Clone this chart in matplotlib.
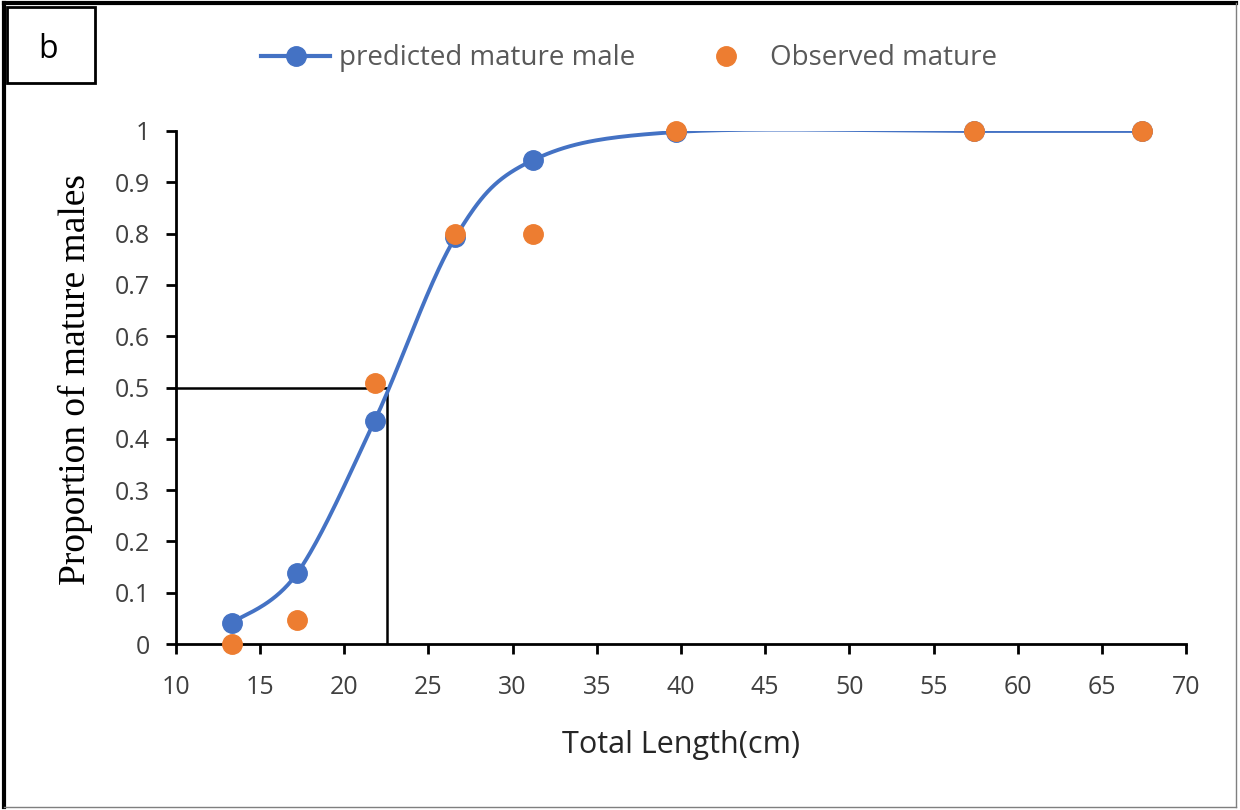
import numpy as np
import matplotlib
matplotlib.use('Agg')
import matplotlib.pyplot as plt
from matplotlib.lines import Line2D
from matplotlib.patches import Rectangle

# total length (cm) of each length class
length_cm = [13.3, 17.2, 21.8, 26.6, 31.2, 39.7, 57.4, 67.4]
predicted = [0.041, 0.138, 0.435, 0.793, 0.943, 0.998, 1.0, 1.0]
observed = [0.0, 0.047, 0.508, 0.80, 0.80, 1.0, 1.0, 1.0]
l50 = 22.55

blue = '#4472C4'
orange = '#ED7D31'
sans = ['Open Sans', 'DejaVu Sans']


def smooth_curve(x, y, n=40):
    # spreadsheet-style smoothed line: cubic bezier between neighbours
    px = np.r_[x[0], x, x[-1]]
    py = np.r_[y[0], y, y[-1]]
    xs, ys = [], []
    t = np.linspace(0, 1, n)
    for i in range(1, len(px) - 2):
        p0 = np.array([px[i], py[i]])
        p3 = np.array([px[i + 1], py[i + 1]])
        p1 = p0 + (np.array([px[i + 1], py[i + 1]]) - np.array([px[i - 1], py[i - 1]])) / 6
        p2 = p3 - (np.array([px[i + 2], py[i + 2]]) - np.array([px[i], py[i]])) / 6
        b = ((1 - t) ** 3)[:, None] * p0 + (3 * (1 - t) ** 2 * t)[:, None] * p1 \
            + (3 * (1 - t) * t ** 2)[:, None] * p2 + (t ** 3)[:, None] * p3
        xs.append(b[:, 0])
        ys.append(b[:, 1])
    return np.concatenate(xs), np.concatenate(ys)


fig = plt.figure(figsize=(12.4, 8.1), dpi=100)
ax = fig.add_axes([0.1419, 0.2049, 0.8146, 0.6334])

# L50 guide lines
ax.plot([10, l50], [0.5, 0.5], color='black', lw=1.8, zorder=2, clip_on=False)
ax.plot([l50, l50], [0.5, 0], color='black', lw=1.8, zorder=2)

sx, sy = smooth_curve(np.array(length_cm), np.array(predicted))
ax.plot(sx, sy, color=blue, lw=2.8, zorder=3, solid_capstyle='round')
ax.plot(length_cm, predicted, 'o', color=blue, ms=14, zorder=4, clip_on=False)
ax.plot(length_cm, observed, 'o', color=orange, ms=14, zorder=5, clip_on=False)

ax.set_xlim(10, 70)
ax.set_ylim(0, 1)
ax.set_xticks(range(10, 71, 5))
ax.set_yticks(np.arange(0, 1.01, 0.1))
ax.set_yticklabels(['0'] + ['%.1f' % v for v in np.arange(0.1, 0.95, 0.1)] + ['1'])
for s in ['top', 'right']:
    ax.spines[s].set_visible(False)
for s in ['left', 'bottom']:
    ax.spines[s].set_linewidth(2)
ax.tick_params(direction='out', length=7, width=2, labelsize=18, labelcolor='#404040')
ax.tick_params(axis='x', pad=15)
ax.tick_params(axis='y', pad=12)
for lab in ax.get_xticklabels() + ax.get_yticklabels():
    lab.set_family(sans)

ax.set_xlabel('Total Length(cm)', fontsize=22, family=sans, color='#262626', va='center')
ax.xaxis.set_label_coords(0.5, -0.197)
ax.set_ylabel('Proportion of mature males', fontsize=27, family='Liberation Serif',
              color='black', va='center')
ax.yaxis.set_label_coords(-0.1, 0.515)

handles = [Line2D([], [], color=blue, lw=3, marker='o', ms=14),
           Line2D([], [], color=orange, lw=0, marker='o', ms=14)]
leg = fig.legend(handles, ['predicted mature male', 'Observed mature'], loc='center',
                 bbox_to_anchor=(0.507, 0.928), ncol=2, frameon=False, handlelength=2.5,
                 columnspacing=2.05, handletextpad=0.3, prop={'family': sans, 'size': 20})
for t in leg.get_texts():
    t.set_color('#595959')

# outer frame and panel letter box
fig.add_artist(Line2D([0.003, 0.997], [0.996, 0.996], color='black', lw=3, transform=fig.transFigure))
fig.add_artist(Line2D([0.003, 0.003], [0.004, 0.996], color='black', lw=3, transform=fig.transFigure))
fig.add_artist(Line2D([0.997, 0.997], [0.004, 0.996], color='#7f7f7f', lw=1, transform=fig.transFigure))
fig.add_artist(Line2D([0.003, 0.997], [0.004, 0.004], color='#7f7f7f', lw=1, transform=fig.transFigure))
fig.add_artist(Rectangle((0.006, 0.898), 0.071, 0.093, fill=False, ec='black', lw=2,
                         transform=fig.transFigure))
fig.text(0.039, 0.939, 'b', fontsize=23, family=sans, ha='center', va='center', color='black')

fig.savefig('out.png', dpi=100)
